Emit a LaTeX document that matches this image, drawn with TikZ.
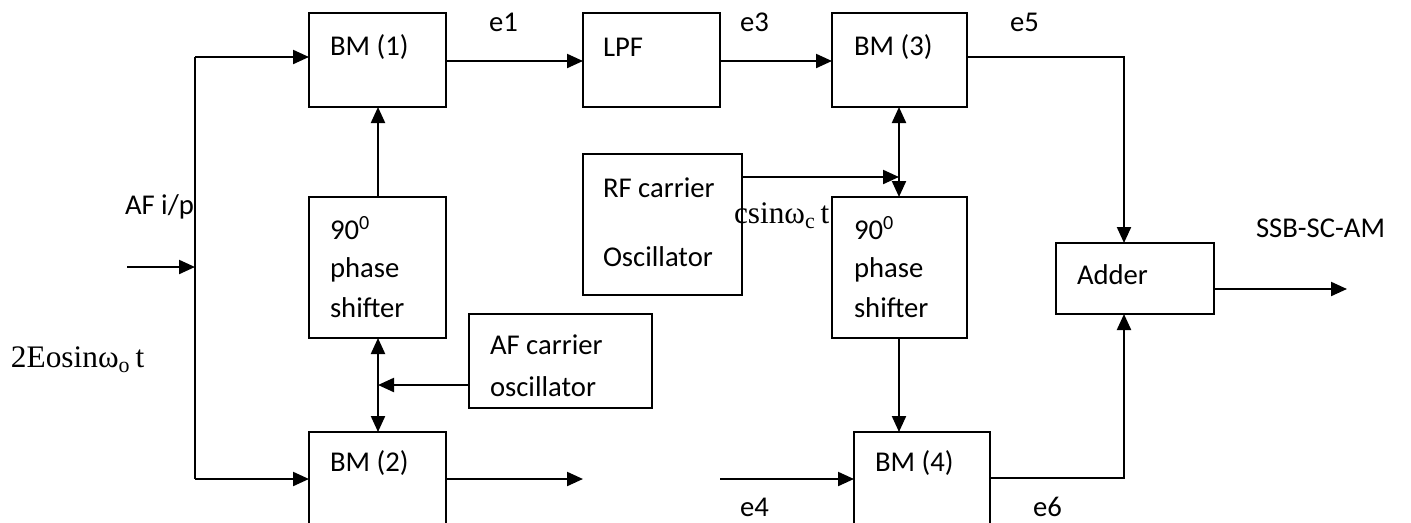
\documentclass[tikz,border=0pt]{standalone}
\usepackage{fontspec}
\setmainfont{Carlito}
\newfontfamily\serifface{Liberation Serif}
\usetikzlibrary{arrows.meta}
\begin{document}
\begin{tikzpicture}[x=0.75pt,y=-0.75pt,
  every node/.style={inner sep=0pt, outer sep=0pt},
  blk/.style={draw, line width=1.6pt, anchor=north west},
  lbl/.style={anchor=west, font=\fontsize{21.5}{24}\selectfont},
  srf/.style={anchor=west, font=\fontsize{23.5}{26}\selectfont\serifface},
  wire/.style={line width=1.6pt},
  arr/.style={line width=1.6pt, -{Triangle[length=12pt,width=10.5pt]}},
  darr/.style={line width=1.6pt, {Triangle[length=12pt,width=10.5pt]}-{Triangle[length=12pt,width=10.5pt]}}]
\useasboundingbox (0,0) rectangle (1411,522);
\clip (0,0) rectangle (1411,522);
% boxes
\node[blk, minimum width=0.75*137pt, minimum height=0.75*94pt] (bm1) at (309,13) {};
\node[blk, minimum width=0.75*137pt, minimum height=0.75*94pt] (lpf) at (583,13) {};
\node[blk, minimum width=0.75*135pt, minimum height=0.75*94pt] (bm3) at (832,13) {};
\node[blk, minimum width=0.75*137pt, minimum height=0.75*141pt] (ps1) at (309,197) {};
\node[blk, minimum width=0.75*159pt, minimum height=0.75*141pt] (rf) at (583,154) {};
\node[blk, minimum width=0.75*183pt, minimum height=0.75*94pt] (afo) at (469,314) {};
\node[blk, minimum width=0.75*137pt, minimum height=0.75*120pt] (bm2) at (309,432) {};
\node[blk, minimum width=0.75*135pt, minimum height=0.75*141pt] (ps2) at (832,197) {};
\node[blk, minimum width=0.75*136pt, minimum height=0.75*120pt] (bm4) at (854,432) {};
\node[blk, minimum width=0.75*158pt, minimum height=0.75*71pt] (add) at (1056,243) {};
% box texts
\node[lbl] (tbm1) at (330,47) {BM (1)};
\node[lbl] (tlpf) at (603,47) {LPF};
\node[lbl] (tbm3) at (854,47) {BM (3)};
\node[lbl] (tbm2) at (330,463) {BM (2)};
\node[lbl] (tbm4) at (875,463) {BM (4)};
\node[lbl] (trf1) at (603,188) {RF carrier};
\node[lbl] (trf2) at (603,257) {Oscillator};
\node[lbl] (taf1) at (490,345) {AF carrier};
\node[lbl] (taf2) at (490,387) {oscillator};
\node[lbl] (tpa1) at (330,228) {90\textsuperscript{0}};
\node[lbl] (tpa2) at (330,270) {phase};
\node[lbl] (tpa3) at (330,308) {shifter};
\node[lbl] (tpb1) at (854,228) {90\textsuperscript{0}};
\node[lbl] (tpb2) at (854,270) {phase};
\node[lbl] (tpb3) at (854,308) {shifter};
\node[lbl] (tadd) at (1077,275) {Adder};
% signal labels
\node[lbl] (le1) at (489,22) {e1};
\node[lbl] (le3) at (740,22) {e3};
\node[lbl] (le5) at (1010,22) {e5};
\node[lbl] (le4) at (740,507) {e4};
\node[lbl] (le6) at (1033,507) {e6};
\node[lbl] (laf) at (125,207) {AF i/p};
\node[lbl] (lssb) at (1256,228) {SSB-SC-AM};
\node[srf] (lin) at (11,360) {2Eosinω\textsubscript{o}\,t};
\node[srf] (lcar) at (734,216) {csinω\textsubscript{c}\,t};
% coordinates
\coordinate (in0) at (127,267);
\coordinate (j) at (195,267);
\coordinate (jt) at (195,57);
\coordinate (jb) at (195,479);
\coordinate (o2) at (583,479);
\coordinate (i4) at (720,479);
\coordinate (tap1) at (378,385);
\coordinate (tap2) at (899,177);
\coordinate (c5) at (1124,57);
\coordinate (c6) at (1124,478);
\coordinate (out) at (1347,289);
% connectors
\draw[arr] (in0) -- (j);
\draw[wire] (jt) -- (jb);
\draw[arr] (jt) -- (bm1.west |- jt);
\draw[arr] (jb) -- (bm2.west |- jb);
\draw[arr] (bm1.east |- 0,61) -- (lpf.west |- 0,61);
\draw[arr] (lpf.east |- 0,61) -- (bm3.west |- 0,61);
\draw[arr] (ps1.north -| tap1) -- (bm1.south -| tap1);
\draw[darr] (ps1.south -| tap1) -- (bm2.north -| tap1);
\draw[arr] (afo.west |- tap1) -- (tap1);
\draw[arr] (bm2.east |- o2) -- (o2);
\draw[arr] (i4) -- (bm4.west |- i4);
\draw[arr] (rf.east |- tap2) -- (tap2);
\draw[darr] (bm3.south -| tap2) -- (ps2.north -| tap2);
\draw[arr] (ps2.south -| tap2) -- (bm4.north -| tap2);
\draw[arr] (bm3.east |- c5) -- (c5) -- (add.north -| c5);
\draw[arr] (bm4.east |- c6) -- (c6) -- (add.south -| c6);
\draw[arr] (add.east |- out) -- (out);
\end{tikzpicture}
\end{document}
